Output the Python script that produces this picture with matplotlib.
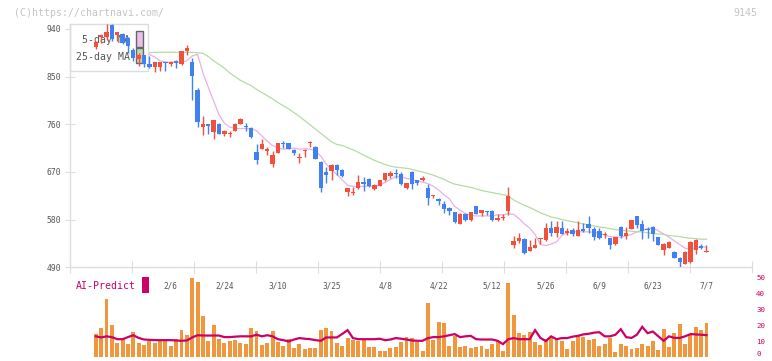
import matplotlib
matplotlib.use('Agg')
import matplotlib.pyplot as plt
from matplotlib.patches import Rectangle
import numpy as np

plt.rcParams['font.family'] = ['DejaVu Sans Mono']

# ---------------- data ----------------
opens = [906,925,925,948,929,931,923,900,884,890, 874,869,869,877,873,880,874,898,878,825,
         754,760,746,761,742,742,748,761,757,753, 708,714,711,686,706,725,724,712,697,709,
         725,717,689,670,672,684,673,632,630,639, 652,657,637,644,654,663,669,667,639,670,
         654,654,640,625,619,610,602,594,572,591, 580,605,593,595,596,580,584,597,533,540,
         544,521,527,544,542,564,555,564,555,560, 550,563,571,563,558,552,545,534,567,550,
         563,586,572,561,567,547,523,527,519,508, 497,500,523,530,519]
closes = [915,929,934,922,934,914,908,885,890,874, 868,877,877,875,878,875,898,904,852,764,
          761,756,768,742,748,743,761,770,755,736, 693,722,712,702,724,723,714,706,698,712,
          726,695,639,665,684,674,662,639,631,651, 647,643,646,654,668,669,667,647,649,648,
          649,659,621,626,616,600,597,575,591,580, 594,591,598,594,580,584,585,624,540,545,
          517,528,533,545,564,555,566,553,559,552, 561,558,564,548,545,553,533,547,550,555,
          579,569,559,560,553,533,534,538,508,500, 519,538,542,527,520]
highs = [918,931,949,950,935,932,924,904,895,891, 889,878,878,878,879,881,899,910,885,828,
         775,761,769,762,749,748,762,771,763,754, 723,732,718,710,725,729,725,713,706,713,
         729,720,690,679,686,685,675,640,641,665, 660,658,647,655,669,671,675,670,650,671,
         655,662,648,627,620,616,603,595,592,592, 595,606,599,597,598,590,590,642,550,555,
         545,541,545,545,574,578,578,578,565,564, 578,574,587,567,564,557,546,548,568,566,
         580,587,580,567,568,548,535,539,520,509, 520,539,543,534,532]
lows = [903,914,920,918,917,912,895,880,870,868, 866,859,860,860,870,866,872,891,806,754,
        739,742,732,741,738,736,747,760,748,735, 686,713,703,679,705,716,713,702,687,698,
        717,694,632,649,655,664,660,625,627,638, 635,642,636,643,653,659,658,646,638,638,
        646,653,608,620,608,592,588,574,571,578, 577,590,586,588,578,578,580,589,526,535,
        515,520,526,534,540,550,547,552,551,550, 549,556,554,542,544,545,525,533,545,544,
        562,565,543,545,540,532,513,526,507,491, 496,499,516,525,518]
ma5 = [912,918,922,927,929,927,922,913,903,895, 892,887,880,878,877,877,877,880,889,892,
       857,830,804,778,762,755,752,752,752,752, 748,738,728,720,715,713,714,715,713,714,
       713,710,700,685,675,665,655,645,643,642, 643,643,643,645,650,656,661,661,658,656,
       653,651,648,643,636,627,619,605,598,591, 588,587,587,587,587,589,589,591,590,582,
       572,564,552,533,531,534,538,550,555,557, 557,557,557,556,554,551,548,547,547,549,
       552,557,560,563,564,559,553,547,540,533, 526,524,527,529,528]
ma25 = [905,904,903,902,901,900,899,898,897,896, 895,896,896,896,896,896,896,896,896,895,
        894,888,880,873,866,857,850,843,838,833, 826,820,814,808,801,795,789,782,775,767,
        759,751,743,735,727,722,720,716,712,707, 702,697,692,688,684,681,679,678,677,675,
        672,670,667,664,660,656,651,647,645,643, 641,638,635,633,631,629,627,625,617,612,
        607,603,598,593,589,585,583,580,578,576, 574,572,570,568,566,565,563,561,560,559,
        558,557,557,555,554,553,552,550,549,548, 546,545,544,543,543]
volume = [23,29,58,32,14,18,13,25,14,12, 16,14,16,18,11,18,27,22,80,75,
          41,16,32,18,14,16,17,14,13,29, 26,12,14,26,15,11,18,9,13,8,
          9,9,27,29,26,14,11,19,17,16, 17,10,10,6,6,9,10,15,20,19,
          15,6,54,17,35,34,11,21,10,11, 9,10,11,8,13,16,6,74,42,24,
          22,25,15,12,18,20,18,16,8,16, 22,20,17,18,11,13,19,5,13,11,
          8,9,13,11,16,7,28,10,24,33, 13,23,30,27,34]
ai_predict = [13,12.3,13,12.5,11.2,11.2,12.5,13.7,12,11, 10.8,10.6,10.6,10.6,10.6,10.4,10.2,10.4,12.3,13.7,
              13.5,13.5,13.5,13.5,12.5,12.5,12.8,13,13,13, 14,13,13.7,13,11.2,10.6,9.8,11,11.9,11.5,
              11.2,10.6,10.2,12.3,12.3,12.3,14.5,16.9,11.9,11.2, 11.2,11.2,11.2,11.5,10.6,11,11.9,11.5,11,10.4,
              10.2,10.2,11.9,12.5,12.5,13,13.7,14.4,12.5,13, 13.3,11.2,11,11,11,10.2,8.1,11.2,11.9,11.2,
              11.2,11.2,16.9,12,10,13,11.2,11.9,11.9,12.8, 13.3,14.2,14.6,15.3,15.6,13,13,14,17.5,12.5,
              12,14,19,15,16,13,10.2,13,12,12, 13,14.4,14.2,14,13.75]
date_labels = ['2/6', '2/24', '3/10', '3/25', '4/8', '4/22', '5/12', '5/26', '6/9', '6/23', '7/7']
date_label_idx = [14, 24, 34, 44, 54, 64, 74, 84, 94, 104, 114]
price_ticks = [490, 580, 670, 760, 850, 940]
ai_ticks = [0, 10, 20, 30, 40, 50]

# ---------------- styles ----------------
RED = '#f0503c'
BLUE = '#4080f0'
ORANGE = '#f0963c'
CRIMSON = '#cc0066'
PINK = '#e8b0e8'
GREEN = '#b4dca4'
AXC = '#dddddd'
TXT = '#555555'

W, H = 772, 361
fig = plt.figure(figsize=(W / 100, H / 100), dpi=100)

def fx(px):
    return px / W

def fy(py):
    return 1 - py / H

L, R = 70, 752
TOP, BOT = 23.7, 267.3
X0_PX, STEP = 95.8, 5.357

def idx_of(px):
    return (px - X0_PX) / STEP

ax = fig.add_axes([fx(L), fy(BOT), fx(R) - fx(L), fy(TOP) - fy(BOT)])
n = len(closes)
x = np.arange(n)
ax.set_xlim(idx_of(L), idx_of(R))
ax.set_ylim(490, 950)

o = np.array(opens, float); c = np.array(closes, float)
hi = np.array(highs, float); lo = np.array(lows, float)
colors = [RED if cc >= oo else BLUE for oo, cc in zip(o, c)]
ax.vlines(x, lo, hi, colors=colors, lw=1.0, zorder=3)
body_h = np.abs(c - o)
bottom = np.minimum(o, c)
small = body_h < 1.9
bottom = np.where(small, (o + c) / 2 - 0.95, bottom)
body_h = np.where(small, 1.9, body_h)
ax.bar(x, body_h, bottom=bottom, width=0.82, color=colors, linewidth=0, zorder=4)

ax.plot(x, ma5, color=PINK, lw=0.9, zorder=1)
ax.plot(x, ma25, color=GREEN, lw=0.9, zorder=1)

for s in ['top', 'right']:
    ax.spines[s].set_visible(False)
for s in ['left', 'bottom']:
    ax.spines[s].set_color(AXC)
    ax.spines[s].set_linewidth(1)
ax.set_yticks(price_ticks)
ax.set_yticklabels([str(v) for v in price_ticks])
ax.tick_params(axis='y', direction='inout', length=7, color=AXC, labelcolor=TXT,
               labelsize=5.8, pad=3)
ax.set_xticks([idx_of(L + 62 * k) for k in range(12)])
ax.set_xticklabels([])
ax.set_xticks(date_label_idx, minor=True)
ax.set_xticklabels(date_labels, minor=True)
ax.tick_params(axis='x', which='major', direction='inout', length=8, color=AXC)
ax.tick_params(axis='x', which='minor', length=0, labelcolor=TXT, labelsize=5.6, pad=10)

# legend box (drawn under candles, over MA lines)
def ax_x(px):
    return (px - L) / (R - L)

def ax_y(py):
    return (BOT - py) / (BOT - TOP)

ax.add_patch(Rectangle((0, ax_y(71)), ax_x(148.3), ax_y(24) - ax_y(71), transform=ax.transAxes,
                       facecolor='white', edgecolor=AXC, lw=1, zorder=2, clip_on=False))
ax.text(ax_x(129.5), ax_y(40), '5-day MA', transform=ax.transAxes, ha='right', va='center',
        color=TXT, fontsize=7.1, zorder=2.5)
ax.text(ax_x(129.5), ax_y(56.5), '25-day MA', transform=ax.transAxes, ha='right', va='center',
        color=TXT, fontsize=7.1, zorder=2.5)
ax.add_patch(Rectangle((ax_x(136), ax_y(46.7)), ax_x(142.7) - ax_x(136), ax_y(31) - ax_y(46.7),
                       transform=ax.transAxes, facecolor='#e8c0e8', edgecolor='#666666', lw=1,
                       zorder=2.6, clip_on=False))
ax.add_patch(Rectangle((ax_x(136), ax_y(63.3)), ax_x(142.7) - ax_x(136), ax_y(48.3) - ax_y(63.3),
                       transform=ax.transAxes, facecolor='#bcdcb0', edgecolor='#666666', lw=1,
                       zorder=2.6, clip_on=False))

# ---------------- bottom panel ----------------
PB_TOP, PB_BOT = 277.5, 357
pos = [fx(L), fy(PB_BOT), fx(R) - fx(L), fy(PB_TOP) - fy(PB_BOT)]
axv = fig.add_axes(pos)
axv.bar(x, volume, width=0.74, color=ORANGE, linewidth=0)
axv.set_xlim(idx_of(L), idx_of(R))
axv.set_ylim(0, 80)
axv.axis('off')

axa = fig.add_axes(pos)
axa.patch.set_alpha(0)
axa.plot(x, ai_predict, color=CRIMSON, lw=1.6, solid_joinstyle='miter')
axa.set_xlim(idx_of(L), idx_of(R))
axa.set_ylim(0, 50)
for s in axa.spines.values():
    s.set_visible(False)
axa.set_xticks([])
axa.yaxis.tick_right()
axa.set_yticks(ai_ticks)
axa.set_yticklabels([str(v) for v in ai_ticks])
axa.tick_params(axis='y', length=0, labelcolor=CRIMSON, labelsize=5.4, pad=3)
for lab in axa.get_yticklabels():
    if lab.get_text() == '0':
        lab.set_va('bottom')

# ---------------- texts ----------------
fig.text(fx(14), fy(12.5), '(C)https://chartnavi.com/', color='#c4c4c4', fontsize=7.1,
         ha='left', va='center')
fig.text(fx(757), fy(12.5), '9145', color='#c4c4c4', fontsize=7.1, ha='right', va='center')
fig.text(fx(76), fy(286), 'AI-Predict', color=CRIMSON, fontsize=7.1, ha='left', va='center')
fig.add_artist(Rectangle((fx(142.3), fy(292.7)), fx(6.4), 15.7 / H, transform=fig.transFigure,
                         facecolor=CRIMSON, edgecolor='none'))

fig.savefig('out.png', dpi=100)
